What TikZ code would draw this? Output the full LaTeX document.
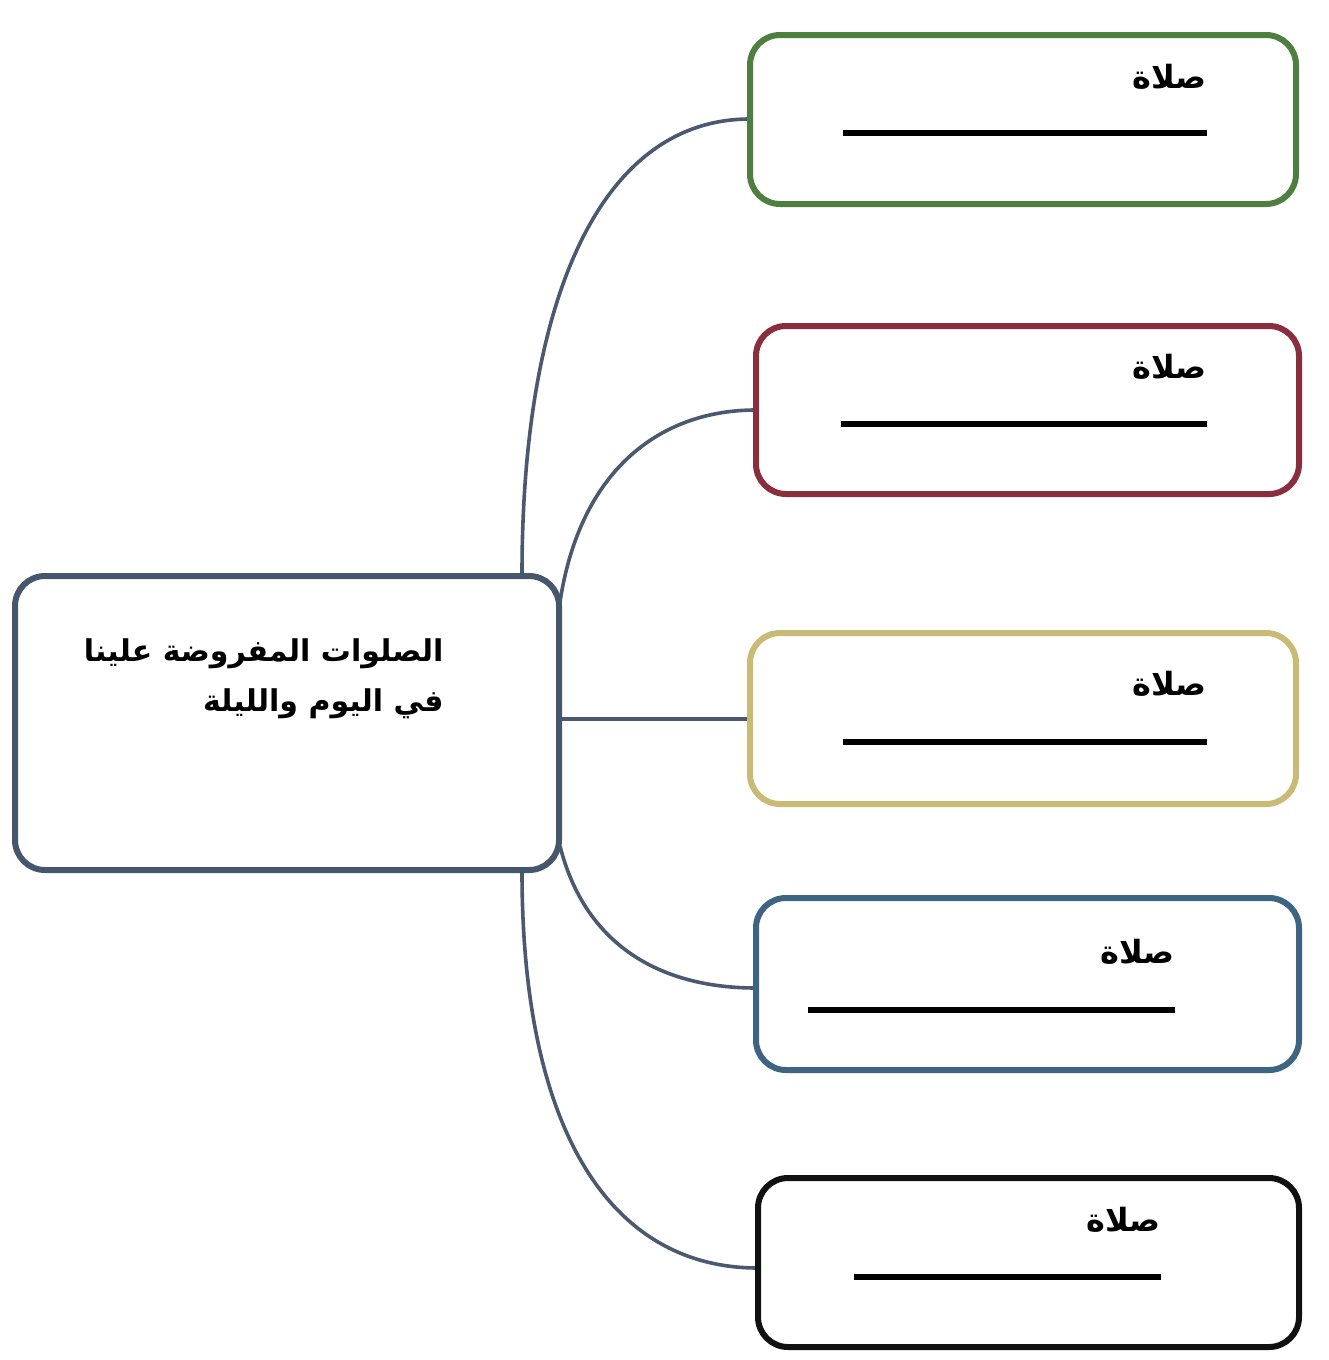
\documentclass[tikz,border=0pt]{standalone}
\usepackage{fontspec}
\newfontfamily\arabicfont[Script=Arabic]{DejaVu Sans}
\TeXXeTstate=1
\usetikzlibrary{calc}
\definecolor{cline}{HTML}{4A5870}
\definecolor{cmain}{HTML}{46566C}
\definecolor{cgreen}{HTML}{4F7F3F}
\definecolor{cred}{HTML}{8A2E3E}
\definecolor{cyellow}{HTML}{C9BA76}
\definecolor{cblue}{HTML}{3D6482}
\definecolor{cblack}{HTML}{111111}
\begin{document}
\begin{tikzpicture}[x=0.5pt,y=-0.5pt,
  boxstyle/.style={draw, line width=3pt, rounded corners=15pt, fill=white, inner sep=0pt},
  conn/.style={draw=cline, line width=1.8pt},
  lbl/.style={font=\arabicfont\bfseries\fontsize{16pt}{19pt}\selectfont, anchor=east, inner sep=0pt},
  blank/.style={line width=3pt, black}]
\useasboundingbox[fill=white] (0,0) rectangle (1328,1360);
% connectors first
\coordinate (t1) at (522,574);
\coordinate (t2) at (560,602);
\coordinate (t3) at (560,719);
\coordinate (t4) at (560,846);
\coordinate (t5) at (522,872);
\coordinate (g1) at (750,119);
\coordinate (r1) at (756,410);
\coordinate (y1) at (750,719);
\coordinate (b1) at (756,988);
\coordinate (k1) at (758,1268);
\draw[conn] (t1) .. controls (522,300) and (600,119) .. (g1);
\draw[conn] (t2) .. controls (580,470) and (660,410) .. (r1);
\draw[conn] (t3) -- (y1);
\draw[conn] (t4) .. controls (585,945) and (660,988) .. (b1);
\draw[conn] (t5) .. controls (522,1130) and (610,1268) .. (k1);
% central
\node[boxstyle, draw=cmain, minimum width=272pt, minimum height=147pt] (main) at (287,723) {};
\node[font=\arabicfont\bfseries\fontsize{15pt}{25pt}\selectfont, align=right, anchor=north east, inner sep=0pt] (maintext) at (444,638)
  {\beginR الصلوات المفروضة علينا\endR\\\beginR في اليوم والليلة\endR};
% boxes
\node[boxstyle, draw=cgreen, minimum width=273pt, minimum height=84.5pt] (gbox) at (1023,119.5) {};
\node[boxstyle, draw=cred, minimum width=271.5pt, minimum height=84pt] (rbox) at (1027.5,410) {};
\node[boxstyle, draw=cyellow, minimum width=273pt, minimum height=85.5pt] (ybox) at (1023,718.5) {};
\node[boxstyle, draw=cblue, minimum width=271.5pt, minimum height=86pt] (bbox) at (1027.5,984) {};
\node[boxstyle, draw=cblack, minimum width=270.5pt, minimum height=84.5pt] (kbox) at (1028.5,1262.5) {};
% labels
\node[lbl] (gl) at (1207,77) {\beginR صلاة\endR};
\node[lbl] (rl) at (1207,367) {\beginR صلاة\endR};
\node[lbl] (yl) at (1207,684) {\beginR صلاة\endR};
\node[lbl] (bl) at (1175,952) {\beginR صلاة\endR};
\node[lbl] (kl) at (1161,1220) {\beginR صلاة\endR};
% blanks
\draw[blank] (843,133) -- (1207,133);
\draw[blank] (841,424) -- (1207,424);
\draw[blank] (843,742) -- (1207,742);
\draw[blank] (808,1010) -- (1175,1010);
\draw[blank] (854,1277) -- (1161,1277);
\end{tikzpicture}
\end{document}
